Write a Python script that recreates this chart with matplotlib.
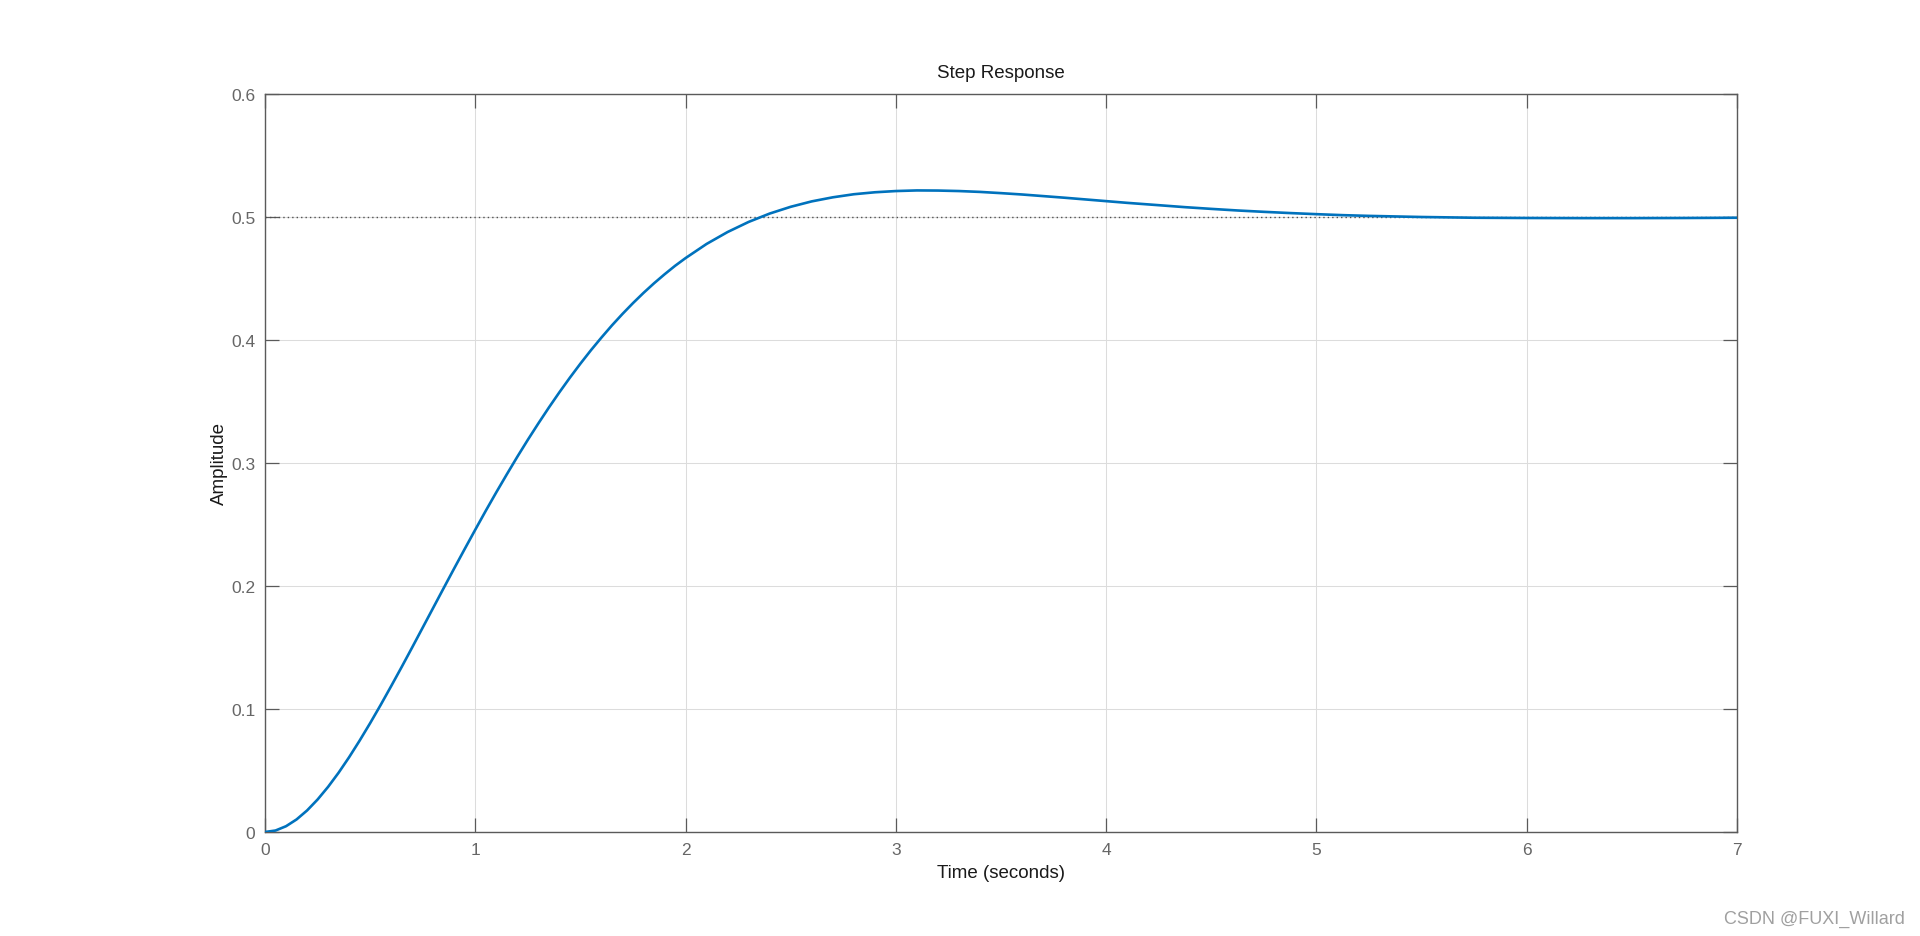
import matplotlib
matplotlib.use("Agg")
import matplotlib.pyplot as plt

plt.rcParams['font.family'] = ['Liberation Sans', 'DejaVu Sans']

# Data
time_s = [0.0, 0.05, 0.1, 0.15, 0.2, 0.25, 0.3, 0.35, 0.4, 0.45,
          0.5, 0.55, 0.6, 0.65, 0.7, 0.75, 0.8, 0.85, 0.9, 0.95,
          1.0, 1.05, 1.1, 1.15, 1.2, 1.25, 1.3, 1.35, 1.4, 1.45,
          1.5, 1.55, 1.6, 1.65, 1.7, 1.75, 1.8, 1.85, 1.9, 1.95,
          2.0, 2.1, 2.2, 2.3, 2.4, 2.5, 2.6, 2.7, 2.8, 2.9,
          3.0, 3.1, 3.2, 3.3, 3.4, 3.5, 3.6, 3.7, 3.8, 3.9,
          4.0, 4.1, 4.25, 4.375, 4.5, 4.625, 4.75, 4.875, 5.0, 5.125,
          5.25, 5.5, 5.75, 6.0, 6.25, 6.5, 6.75, 7.0]
amplitude = [0.0, 0.0012, 0.0047, 0.0102, 0.0175, 0.0264, 0.0367, 0.0482, 0.0608, 0.0743,
             0.0885, 0.1033, 0.1186, 0.1342, 0.1501, 0.1662, 0.1823, 0.1984, 0.2144, 0.2302,
             0.2458, 0.2612, 0.2762, 0.2908, 0.3051, 0.3189, 0.3322, 0.3451, 0.3575, 0.3694,
             0.3808, 0.3917, 0.4020, 0.4119, 0.4212, 0.4300, 0.4383, 0.4461, 0.4534, 0.4603,
             0.4666, 0.4781, 0.4878, 0.4960, 0.5028, 0.5083, 0.5127, 0.5160, 0.5185, 0.5201,
             0.5211, 0.5216, 0.5215, 0.5211, 0.5204, 0.5194, 0.5183, 0.5170, 0.5157, 0.5143,
             0.5129, 0.5115, 0.5096, 0.5080, 0.5066, 0.5053, 0.5042, 0.5032, 0.5023, 0.5015,
             0.5009, 0.5000, 0.4994, 0.4992, 0.4991, 0.4991, 0.4992, 0.4994]
steady_state = 0.5
x_ticks = [0, 1, 2, 3, 4, 5, 6, 7]
y_ticks = [0, 0.1, 0.2, 0.3, 0.4, 0.5, 0.6]
y_tick_labels = ['0', '0.1', '0.2', '0.3', '0.4', '0.5', '0.6']

fig = plt.figure(figsize=(19.2, 9.37), dpi=100)
ax = fig.add_axes([265/1920, 1-833/937, (1737-265)/1920, (833-95)/937])

axis_col = '#5a5a5a'
ax.grid(True, color='#dcdcdc', linewidth=0.75, linestyle='-')
ax.set_axisbelow(True)
ax.axhline(steady_state, color='#505050', linestyle=(0, (1, 2.2)), linewidth=1.0, zorder=2)
ax.plot(time_s, amplitude, color='#0072BD', linewidth=1.9, zorder=3,
        solid_joinstyle='round', solid_capstyle='round')

ax.set_xlim(0, 7)
ax.set_ylim(0, 0.6)
ax.set_xticks(x_ticks)
ax.set_xticklabels([str(t) for t in x_ticks])
ax.set_yticks(y_ticks)
ax.set_yticklabels(y_tick_labels)
ax.tick_params(direction='in', length=10, width=0.9, color=axis_col,
               labelcolor='#666666', labelsize=12.5, top=True, right=True, pad=7)
for s in ax.spines.values():
    s.set_color(axis_col)
    s.set_linewidth(1.0)

ax.set_title('Step Response', fontsize=13.5, color='#1a1a1a', pad=12)
ax.set_xlabel('Time (seconds)', fontsize=13.5, color='#1a1a1a', labelpad=5)
ax.set_ylabel('Amplitude', fontsize=13.5, color='#1a1a1a', labelpad=2)

fig.text(1905/1920, 1-919/937, 'CSDN @FUXI_Willard', ha='right', va='center',
         fontsize=13, color='#a0a0a0')

fig.savefig('out.png', dpi=100)
